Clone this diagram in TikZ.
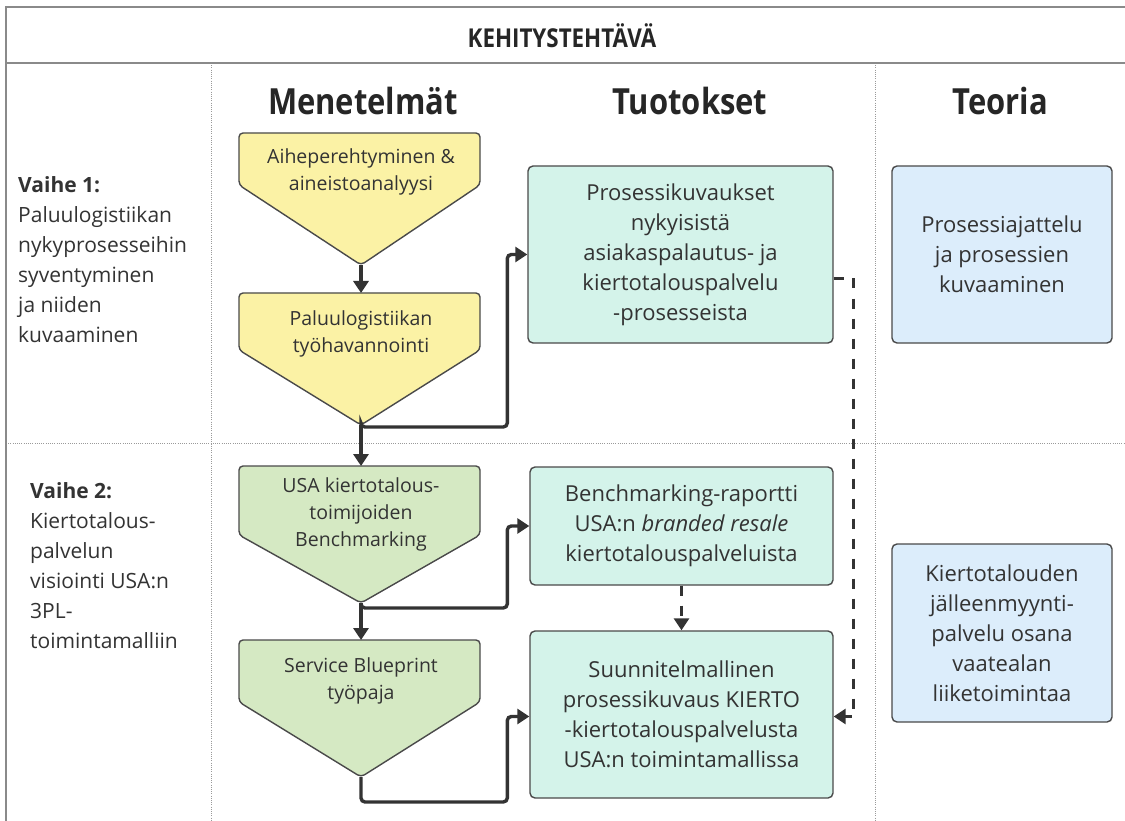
\documentclass[tikz,border=0pt]{standalone}
\usepackage{fontspec}
\setmainfont{Open Sans}
\newfontfamily\headfont{Open Sans}[FakeStretch=0.86]
\usetikzlibrary{arrows.meta,calc}

\definecolor{framec}{HTML}{8A8A8A}
\definecolor{dotc}{HTML}{9A9A9A}
\definecolor{linec}{HTML}{333333}
\definecolor{edgec}{HTML}{4A4A4A}
\definecolor{textc}{HTML}{333333}
\definecolor{yellowc}{HTML}{FBF2A5}
\definecolor{greenc}{HTML}{D5E9C3}
\definecolor{tealc}{HTML}{D4F3EA}
\definecolor{bluec}{HTML}{DCEDFB}

\tikzset{
  frameline/.style={draw=framec, line width=2.4pt},
  gridline/.style={draw=dotc, line width=1pt, dash pattern=on 1pt off 1.2pt},
  penta/.style={draw=edgec, line width=1.4pt, rounded corners=4pt},
  pentatext/.style={align=center, text=textc, inner sep=0pt,
    font=\fontsize{19.5}{27}\selectfont},
  outbox/.style={draw=edgec, line width=1.4pt, rounded corners=5pt,
    align=center, text=textc, inner sep=0pt,
    font=\fontsize{22}{30}\selectfont},
  sidetext/.style={align=left, text=textc, inner sep=0pt, anchor=north west,
    font=\fontsize{21}{30}\selectfont},
  colhead/.style={text=black!85, inner sep=0pt,
    font=\headfont\bfseries\fontsize{36}{42}\selectfont},
  flow/.style={draw=linec, line width=3.4pt, rounded corners=4pt,
    -{Triangle[length=12pt,width=15pt]}},
  dashflow/.style={draw=linec, line width=3.4pt,
    dash pattern=on 10pt off 10pt,
    -{Triangle[length=12pt,width=15pt]}}
}

\begin{document}
\begin{tikzpicture}[x=1pt,y=-1pt]
\useasboundingbox (0,0) rectangle (1125,821);
\fill[white] (0,0) rectangle (1125,821);

% frame and grid
\draw[gridline] (211,63) -- (211,821);
\draw[gridline] (875,63) -- (875,821);
\draw[gridline] (6,443) -- (1125,443);
\draw[frameline] (1125,7) -- (6,7) -- (6,821);
\draw[frameline] (6,63) -- (1125,63);

% title and column headings
\node[text=black!85, font=\headfont\bfseries\fontsize{26}{30}\selectfont] (title) at (562,36) {KEHITYSTEHTÄVÄ};
\node[colhead] (hmet) at (363,101) {Menetelmät};
\node[colhead] (htuo) at (690,101) {Tuotokset};
\node[colhead] (hteo) at (1000,101) {Teoria};

% phase descriptions
\node[sidetext] (vaihe1) at (18,176) {\textbf{Vaihe 1:}\\Paluulogistiikan\\nykyprosesseihin\\syventyminen\\ja niiden\\kuvaaminen};
\node[sidetext] (vaihe2) at (30,482) {\textbf{Vaihe 2:}\\Kiertotalous-\\palvelun\\visiointi USA:n\\3PL-\\toimintamalliin};

% methods (downward pentagons)
\draw[penta, fill=yellowc] (239,185) -- (239,133) -- (480,133) -- (480,185) -- (361,265) -- cycle;
\draw[penta, fill=yellowc] (239,350) -- (239,293) -- (480,293) -- (480,350) -- (361,425) -- cycle;
\draw[penta, fill=greenc] (239,535) -- (239,466) -- (480,466) -- (480,535) -- (361,603) -- cycle;
\draw[penta, fill=greenc] (239,702) -- (239,640) -- (480,640) -- (480,702) -- (361,777) -- cycle;
\coordinate (m1top) at (361,133); \coordinate (m1tip) at (361,265);
\coordinate (m2top) at (361,293); \coordinate (m2tip) at (361,425);
\coordinate (m3top) at (361,466); \coordinate (m3tip) at (361,603);
\coordinate (m4top) at (361,640); \coordinate (m4tip) at (361,777);

\node[pentatext] (m1) at (361,172) {Aiheperehtyminen \&\\aineistoanalyysi};
\node[pentatext] (m2) at (361,334) {Paluulogistiikan\\työhavannointi};
\node[pentatext] (m3) at (361,514) {USA kiertotalous-\\toimijoiden\\Benchmarking};
\node[pentatext] (m4) at (361,681) {Service Blueprint\\työpaja};

% outputs
\node[outbox, fill=tealc, minimum width=305pt, minimum height=177pt] (o1) at (680.5,254.5)
  {Prosessikuvaukset\\nykyisistä\\asiakaspalautus- ja\\kiertotalouspalvelu\\-prosesseista};
\node[outbox, fill=tealc, minimum width=303pt, minimum height=118pt] (o2) at (681.5,526)
  {Benchmarking-raportti\\USA:n \textit{branded resale}\\kiertotalouspalveluista};
\node[outbox, fill=tealc, minimum width=303pt, minimum height=167pt] (o3) at (681.5,714.5)
  {Suunnitelmallinen\\prosessikuvaus KIERTO\\-kiertotalouspalvelusta\\USA:n toimintamallissa};

% theory
\node[outbox, fill=bluec, minimum width=220pt, minimum height=177pt] (t1) at (1002,254.5)
  {Prosessiajattelu\\ja prosessien\\kuvaaminen};
\node[outbox, fill=bluec, minimum width=220pt, minimum height=178pt] (t2) at (1002,633)
  {Kiertotalouden\\jälleenmyynti-\\palvelu osana\\vaatealan\\liiketoimintaa};

% method flow
\draw[flow] (m1tip) -- (m2top);
\draw[flow] (m2tip) -- (m3top);
\draw[flow] (m3tip) -- (m4top);

% methods to outputs
\draw[flow] (m2tip) -- ++(0,2) -| ($(o1.west)+(-20,0)$) -- (o1.west);
\draw[flow] (m3tip) -- ++(0,5) -| ($(o2.west)+(-22,0)$) -- (o2.west);
\draw[flow] (m4tip) -- ++(0,25) -| ($(o3.west)+(-22,2)$) -- ($(o3.west)+(0,2)$);

% dependencies between outputs
\draw[dashflow] (o2.south) -- (o3.north);
\draw[dashflow] ($(o1.east)+(0,24)$) -- ++(20,0) |- ($(o3.east)+(0,2)$);
\end{tikzpicture}
\end{document}
